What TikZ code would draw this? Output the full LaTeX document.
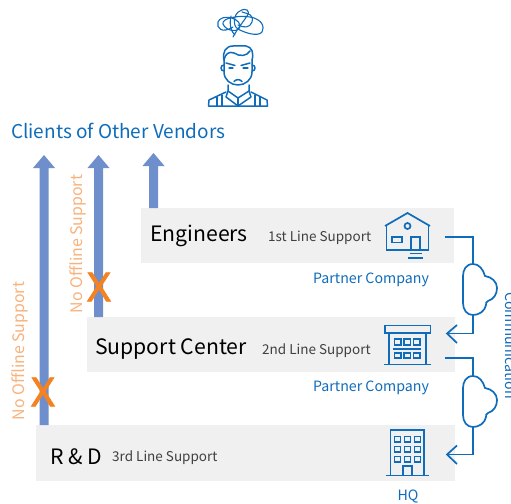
\documentclass[tikz,border=0pt]{standalone}
\usepackage{fontspec}
\setmainfont{Noto Sans CJK SC}
\newfontfamily\xfont[FakeBold=2.2]{Noto Sans}
\definecolor{iconblue}{HTML}{0F6CBB}
\definecolor{arrowblue}{HTML}{6E8FCB}
\definecolor{boxgray}{HTML}{F0F0F0}
\definecolor{xorange}{HTML}{F58220}
\definecolor{noorange}{HTML}{F8B27C}
\tikzset{
  lanebox/.style={fill=boxgray,draw=none,inner sep=0pt,anchor=north west},
  icon/.style={draw=iconblue,line width=1.7pt,line join=miter},
  link/.style={draw=iconblue,line width=1.7pt},
  uparrow/.style={draw=none,fill=arrowblue},
  bigtitle/.style={font=\fontsize{21.2}{26}\selectfont,text=black,inner sep=0pt,anchor=west},
  linelabel/.style={font=\fontsize{13.5}{17}\selectfont,text=black!75,inner sep=0pt,anchor=west},
  bluelabel/.style={font=\fontsize{14.2}{17}\selectfont,text=iconblue,inner sep=0pt},
  nolabel/.style={font=\fontsize{15.9}{20}\selectfont,text=noorange,inner sep=0pt,rotate=90},
  xmark/.style={font=\xfont\fontsize{40}{44}\selectfont,text=xorange,inner sep=0pt}
}
\newcommand{\upshaft}[3]{% x, ybottom, ytop(tip)
  \fill[uparrow] ({#1-4.5},#2) -- ({#1-4.5},{#3+13}) -- ({#1-11},{#3+13}) -- (#1,#3) -- ({#1+11},{#3+13}) -- ({#1+4.5},{#3+13}) -- ({#1+4.5},#2) -- cycle;}
\newcommand{\cloudat}[1]{% y of the top
  \begin{scope}[yshift={-(#1-264)*1pt}]
  \draw[link] (473,264) .. controls (466,264) and (463,270) .. (463,276)
    -- (463,303) .. controls (463,310) and (467,315) .. (473,315)
    .. controls (479,315) and (485,311) .. (486,305)
    .. controls (486,303) and (486,302) .. (488,301)
    .. controls (494,299) and (497,294) .. (497,288)
    .. controls (497,282) and (492,277) .. (485,276)
    .. controls (483,269) and (479,264) .. (473,264) -- cycle;
  \end{scope}}
\begin{document}
\begin{tikzpicture}[x=1pt,y=-1pt]
\useasboundingbox (0,0) rectangle (511,503);
\clip (0,0) rectangle (511,503);
% grey bands
\node[lanebox,minimum width=313pt,minimum height=55pt] (eng) at (141,208) {};
\node[lanebox,minimum width=368pt,minimum height=55pt] (sup) at (87,317) {};
\node[lanebox,minimum width=419pt,minimum height=56pt] (rd) at (36,425) {};
% arrows
\upshaft{44}{425}{155}
\upshaft{98.5}{317}{155}
\upshaft{153.5}{208}{153}
% texts
\node[font=\fontsize{19}{24}\selectfont,text=iconblue,inner sep=0pt,anchor=west] (clients) at (11,131) {Clients of Other Vendors};
\node[bigtitle] (engt) at (150,235.5) {Engineers};
\node[bigtitle] (supt) at (95,349) {Support Center};
\node[bigtitle] (rdt) at (50,456.5) {R \& D};
\node[linelabel] (l1) at (268,237.5) {1st Line Support};
\node[linelabel] (l2) at (262,350.5) {2nd Line Support};
\node[linelabel] (l3) at (112,457.5) {3rd Line Support};
\node[bluelabel] (pc1) at (371,279.5) {Partner Company};
\node[bluelabel] (pc2) at (371,387.5) {Partner Company};
\node[bluelabel] (hq) at (408,496.5) {HQ};
\node[bluelabel,rotate=-90,anchor=base west] (comm) at (505,292) {Communication};
\node[nolabel] (no1) at (19.5,351) {No Offline Support};
\node[nolabel] (no2) at (78,244) {No Offline Support};
\node[xmark] (x1) at (43,392) {X};
\node[xmark] (x2) at (99,287) {X};
% house
\draw[icon] (385,226) -- (407.5,213) -- (430,226);
\draw[icon] (386.5,225) -- (386.5,250) -- (428.5,250) -- (428.5,225);
\draw[icon] (411,250) -- (411,237) -- (420,237) -- (420,250);
\draw[icon] (392,237) rectangle (402,242.5);
\draw[icon] (407.5,226) circle (3);
\draw[icon] (409.5,253.5) -- (422,253.5);
\draw[icon] (408,258) -- (423,258);
% support building
\draw[icon] (385,325.5) rectangle (430.5,333);
\draw[icon] (389,333) -- (389,364) (426,333) -- (426,364);
\draw[icon] (384,364.5) -- (431,364.5);
\draw[icon] (393,349) -- (421,349);
\foreach \wx in {394.5,404,413.5}{
  \draw[line width=1.4pt,draw=iconblue] (\wx,339) rectangle ({\wx+6.5},345);
  \draw[line width=1.4pt,draw=iconblue] (\wx,353) rectangle ({\wx+6.5},358);
}
% HQ building
\draw[icon] (390.5,475) -- (390.5,430) -- (424,430) -- (424,475);
\draw[icon] (386,475.5) -- (428.5,475.5);
\draw[icon] (403,475) -- (403,466) -- (412,466) -- (412,475);
\foreach \wx in {394.5,404.5,414.5}{
  \foreach \wy in {436.5,446.5,456.5}{
    \draw[line width=1.4pt,draw=iconblue] (\wx,\wy) rectangle ({\wx+6},{\wy+5.5});
  }
}
% clouds
\cloudat{264}
\cloudat{376}
% connectors
\coordinate (a1) at (445,237);
\coordinate (c1t) at (473,264);
\coordinate (c1b) at (473,315);
\coordinate (a2) at (447,333.5);
\coordinate (b1) at (445,358);
\coordinate (c2t) at (473,376);
\coordinate (c2b) at (473,427);
\coordinate (b2) at (447,454.5);
\draw[link] (a1) -| (c1t);
\draw[link] (c1b) |- (a2);
\draw[link] (b1) -| (c2t);
\draw[link] (c2b) |- (b2);
\draw[link] (457,325) -- (a2) -- (457,343);
\draw[link] (457,445.5) -- (b2) -- (457,464);
% person
\begin{scope}[draw=iconblue,line width=1.5pt,line join=round,line cap=round]
\draw (224,60) -- (224,72) .. controls (224,80) and (231,85) .. (238,85)
  .. controls (245,85) and (252,80) .. (252,72) -- (252,60);
\draw (224,60) .. controls (222,52) and (226,46) .. (233,46) -- (246,46)
  .. controls (252,47) and (254,53) .. (252,60);
\draw (224,60) .. controls (225,54) and (229,51) .. (234,53)
  .. controls (240,57) and (247,56) .. (250,51);
\draw (224,65) .. controls (220,65) and (220,71) .. (224,71);
\draw (252,65) .. controls (256,65) and (256,71) .. (252,71);
\draw (226,63) -- (235,65.5);
\draw (250,63) -- (241,65.5);
\draw[line width=1.1pt] (229,68) -- (233,68);
\draw[line width=1.1pt] (243,68) -- (248,68);
\draw (234,81.5) .. controls (236,79) and (240,79) .. (242,81.5);
\draw (228,85) -- (228,91) -- (238,98) -- (249,91) -- (249,85);
\draw (228,91) -- (226,97) -- (238,106);
\draw (249,91) -- (251,97) -- (238,106);
\draw (238,98) -- (238,106);
\draw (226,92) -- (209,100) -- (208.5,106) -- (267.5,106) -- (267,100) -- (251,92);
\draw (217,97) -- (217,106) (222,95) -- (222,106);
\draw (255,95) -- (255,106) (260,97) -- (260,106);
% scribble
\draw[line width=1.1pt] (233,27) .. controls (222,34) and (216,28) .. (218,22)
  .. controls (221,14) and (238,17) .. (240,25)
  .. controls (241,33) and (226,32) .. (223,24)
  .. controls (221,18) and (240,15) .. (250,17)
  .. controls (262,19) and (265,27) .. (262,32)
  .. controls (258,37) and (245,33) .. (238,29)
  .. controls (232,26) and (234,13) .. (240,11)
  .. controls (246,7) and (251,11) .. (247,16)
  .. controls (243,22) and (236,31) .. (233,37);
\draw[line width=1.1pt] (231,16) .. controls (229,24) and (231,32) .. (235,35);
\draw[line width=1.1pt] (242,12) .. controls (248,14) and (254,14) .. (252,22)
  .. controls (250,28) and (244,28) .. (238,25);
\end{scope}
\end{tikzpicture}
\end{document}
